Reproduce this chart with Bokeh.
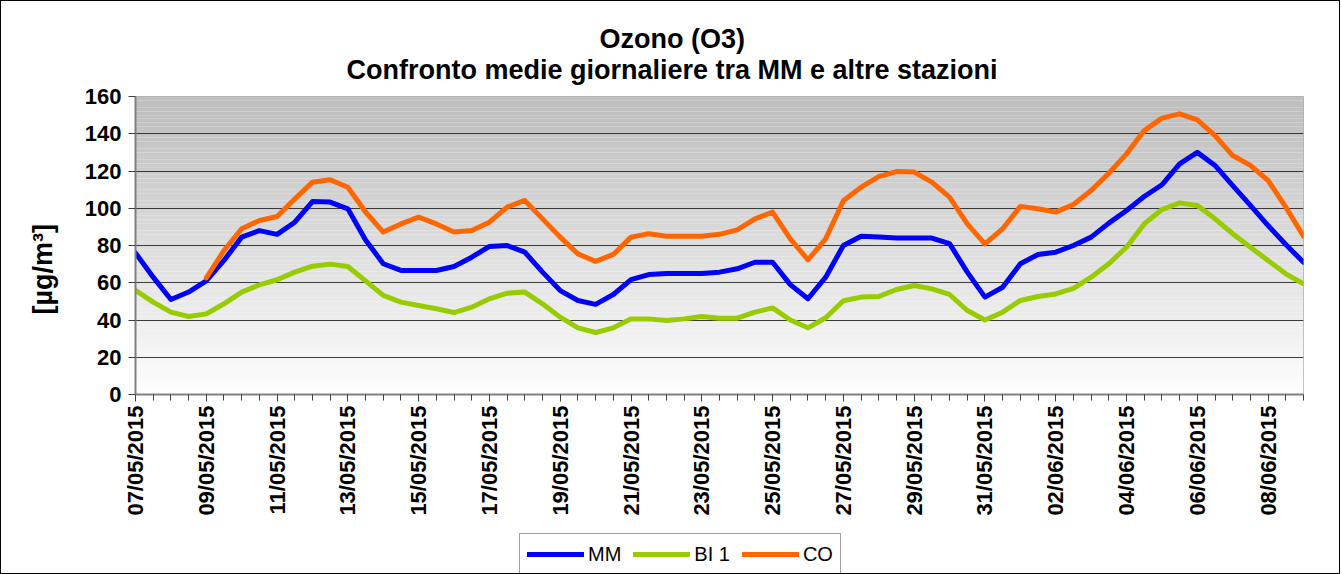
import math
from bokeh.plotting import figure
from bokeh.layouts import column
from bokeh.models import FixedTicker, Legend, LegendItem, Title, Range1d
from bokeh.embed import file_html
from bokeh.resources import INLINE

TITLE_1 = "Ozono (O3)"
TITLE_2 = "Confronto medie giornaliere tra MM e altre stazioni"
Y_LABEL = "[µg/m³]"
SERIES = ["MM", "BI 1", "CO"]
COLORS = ["#0000FF", "#99CC00", "#FF6600"]
TICK_LABELS = ["07/05/2015", "09/05/2015", "11/05/2015", "13/05/2015", "15/05/2015",
               "17/05/2015", "19/05/2015", "21/05/2015", "23/05/2015", "25/05/2015",
               "27/05/2015", "29/05/2015", "31/05/2015", "02/06/2015", "04/06/2015",
               "06/06/2015", "08/06/2015"]
Y_TICKS = [0, 20, 40, 60, 80, 100, 120, 140, 160]

# values every half day, 07/05/2015 -> 09/06/2015
mm = [76, 63, 51, 55, 61, 72, 84.5, 88, 86, 92.5, 103.6, 103.3, 99.7, 83,
      70.2, 66.6, 66.6, 66.6, 68.7, 73.7, 79.5, 80, 76.4, 65.7, 55.8, 50.5,
      48.4, 53.7, 61.7, 64.4, 65, 65, 65, 65.7, 67.5, 71, 71, 59, 51.4, 63,
      80, 85, 84.5, 84, 84, 84, 81, 65.7, 52.3, 57.6, 70.2, 75.2, 76.4, 80,
      84.5, 92, 98.8, 106.3, 112.6, 123.8, 130, 123, 112.2, 101.5, 90.7, 80.5, 71]
bi1 = [56, 49.6, 44.2, 41.9, 43.3, 48.7, 55, 58.9, 61.6, 65.7, 68.9, 70, 68.7, 61,
       53.2, 49.6, 47.8, 46, 44, 46.9, 51.4, 54.4, 55, 48.7, 41.5, 35.8,
       33.3, 35.8, 40.6, 40.6, 39.7, 40.6, 41.9, 41, 41, 44.2, 46.5, 40, 35.8, 41.2,
       50.3, 52.3, 52.6, 56.4, 58.5, 56.7, 53.7, 45.1, 40, 44.2, 50.5, 52.6, 54, 57,
       63, 70.2, 79.1, 91.6, 99.3, 102.9, 101.5, 94.3, 86.3, 79.1, 71.9, 64.8, 59.4]
co = [float("nan"), float("nan"), float("nan"), float("nan"),
      62.6, 77.3, 89, 93.4, 95.6, 105, 114, 115.3, 111.3, 98,
      87.2, 91.6, 95.2, 91.6, 87.2, 88, 92.5, 100.6, 104.2, 94.3, 84.5, 75.5,
      71.5, 75.2, 84.5, 86.3, 85, 85, 85, 86, 88.4, 94.3, 97.9, 83.6, 72.3, 83.6,
      104, 111.3, 117, 119.7, 119.4, 114, 106, 91.6, 80.9, 89, 101, 99.7, 97.9, 102,
      109.5, 118.8, 129.2, 141.7, 148.4, 150.7, 147.5, 139, 128.3, 123, 114.9, 100.6, 85]

x = [i * 0.5 for i in range(len(mm))]
x_end = x[-1]

FONT = "Liberation Sans"
W = 1338

p = figure(width=W, height=529, output_backend="svg", toolbar_location=None,
           x_range=Range1d(0, x_end), y_range=Range1d(0, 160), title=None,
           min_border_left=134, min_border_right=36, min_border_top=95,
           min_border_bottom=136)
p.background_fill_color = "white"
p.border_fill_color = "white"
p.outline_line_color = "#b0b0b0"

# gradient background bands
n_bands = 80
bottoms = [160 * i / n_bands for i in range(n_bands)]
tops = [160 * (i + 1) / n_bands for i in range(n_bands)]
cols = []
for b, t in zip(bottoms, tops):
    v = (b + t) / 2
    g = int(round(254 - 62 * min(v / 150.0, 1.0)))
    cols.append("#%02x%02x%02x" % (g, g, g))
p.quad(left=0, right=x_end, bottom=bottoms, top=tops, fill_color=cols,
       line_color=None, level="image")

p.xgrid.grid_line_color = None
p.ygrid.grid_line_color = "#000000"
p.ygrid.grid_line_alpha = 0.75
p.ygrid.grid_line_width = 1

for ys, c in zip([mm, bi1, co], COLORS):
    p.line(x, ys, line_color=c, line_width=5, line_join="round", line_cap="round")

# axes
p.xaxis.ticker = FixedTicker(ticks=[2 * i for i in range(len(TICK_LABELS))],
                             minor_ticks=x)
p.xaxis.major_label_overrides = {2 * i: lab for i, lab in enumerate(TICK_LABELS)}
p.xaxis.major_label_orientation = math.pi / 2
p.yaxis.ticker = FixedTicker(ticks=Y_TICKS, minor_ticks=[])
for ax in (p.xaxis[0], p.yaxis[0]):
    ax.axis_line_color = "#808080"
    ax.axis_line_width = 2
    ax.major_tick_line_color = "#404040"
    ax.minor_tick_line_color = "#404040"
    ax.major_tick_in = 0
    ax.major_tick_out = 7
    ax.minor_tick_in = 0
    ax.minor_tick_out = 6
    ax.major_label_text_font = FONT
    ax.major_label_text_font_style = "bold"
    ax.major_label_text_font_size = "22px"
    ax.major_label_text_color = "#000000"
p.xaxis.major_label_standoff = 4
p.yaxis.major_label_standoff = 7

# y axis title (left side, shifted down like the original)
p.add_layout(Title(text=Y_LABEL, align="left", offset=80, text_font=FONT,
                   text_font_style="bold", text_font_size="27px", text_color="#000000",
                   standoff=48), "left")

# chart titles
p.add_layout(Title(text=TITLE_2, align="left", offset=211, text_font=FONT,
                   text_font_style="bold", text_font_size="27px", text_color="#000000",
                   standoff=24), "above")
p.add_layout(Title(text=TITLE_1, align="left", offset=464, text_font=FONT,
                   text_font_style="bold", text_font_size="27px", text_color="#000000",
                   standoff=-26), "above")

# legend strip (separate canvas under the chart)
LH = 43
lg = figure(width=W, height=LH, output_backend="svg", toolbar_location=None,
            x_range=Range1d(0, 1), y_range=Range1d(0, 1), min_border=0,
            outline_line_color=None)
lg.axis.visible = False
lg.grid.visible = False
lg.background_fill_color = "white"
lg.border_fill_color = "white"
# placeholder renderers kept outside the visible range: only their style feeds the legend
leg_renderers = [lg.line([-3, -2], [-3, -3], line_color=c, line_width=5, line_cap="round")
                 for c in COLORS]
legend = Legend(items=[LegendItem(label=s, renderers=[r]) for s, r in zip(SERIES, leg_renderers)],
                orientation="horizontal", location=(384, -2),
                padding=7, margin=0, spacing=12, glyph_width=57, glyph_height=26,
                label_height=26, label_standoff=4,
                label_text_font=FONT, label_text_font_size="20px",
                label_text_color="#000000",
                border_line_color="#404040", border_line_width=1,
                background_fill_color="white", background_fill_alpha=1)
lg.add_layout(legend, "center")

layout = column(p, lg, spacing=0)
layout.styles = {"border": "1px solid #000000"}

open("out.html", "w").write(file_html(layout, INLINE))
